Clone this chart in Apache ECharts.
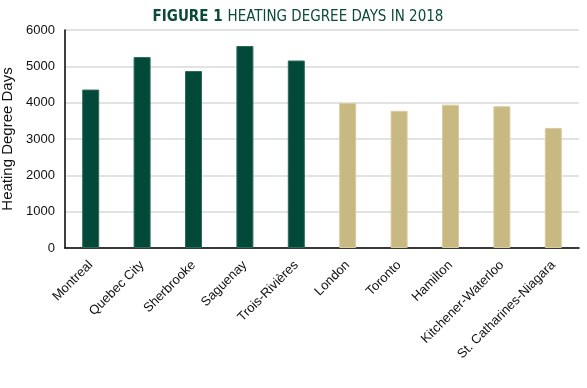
<!DOCTYPE html>
<html>
<head>
<meta charset="utf-8">
<script src="https://cdn.jsdelivr.net/npm/echarts@6/dist/echarts.min.js"></script>
<style>html,body{margin:0;padding:0;background:#fff}#c{width:587px;height:388px}</style>
</head>
<body>
<div id="c"></div>
<script>
var categories = ['Montreal','Quebec City','Sherbrooke','Saguenay','Trois-Rivières','London','Toronto','Hamilton','Kitchener-Waterloo','St. Catharines-Niagara'];
var values = [4360, 5255, 4870, 5560, 5160, 3990, 3775, 3945, 3900, 3305];
var province = ['QC','QC','QC','QC','QC','ON','ON','ON','ON','ON'];
var yTicks = [0,1000,2000,3000,4000,5000,6000];

var colors = {QC:'#02493a', ON:'#c8b983'};
var borders = {QC:'#2c6a58', ON:'#d8cc9e'};
var F = 'Liberation Sans, Arial, sans-serif';

var chart = echarts.init(document.getElementById('c'), null, {renderer:'canvas'});
chart.setOption({
  animation:false,
  title:{
    text:'{b|FIGURE 1} {n|HEATING DEGREE DAYS IN 2018}',
    left:293, top:3, textAlign:'center',
    textStyle:{
      rich:{
        b:{fontFamily:'DejaVu Sans Condensed, sans-serif',fontWeight:'bold',fontSize:15,color:'#0b4a3a'},
        n:{fontFamily:'DejaVu Sans Condensed, sans-serif',fontWeight:'normal',fontSize:15,color:'#0b4a3a'}
      }
    }
  },
  grid:{left:65,right:8,top:30,bottom:140,containLabel:false,outerBoundsMode:'none'},
  xAxis:{
    type:'category', data:categories,
    axisLine:{lineStyle:{color:'#000',width:1.5}},
    axisTick:{show:false},
    axisLabel:{rotate:45,interval:0,fontFamily:F,fontSize:13,color:'#111',margin:15}
  },
  yAxis:{
    type:'value', min:yTicks[0], max:yTicks[yTicks.length-1], interval:1000,
    name:'Heating Degree Days', nameLocation:'middle', nameGap:45,
    nameTextStyle:{fontFamily:F,fontSize:15,color:'#111'},
    axisLine:{show:true,lineStyle:{color:'#000',width:1.5}},
    axisTick:{show:false},
    axisLabel:{fontFamily:F,fontSize:13,color:'#111',margin:10,formatter:function(v){return String(v);}},
    splitLine:{lineStyle:{color:'#d9d9d9',width:1.5}}
  },
  series:[{
    type:'bar', barWidth:17,
    data: values.map(function(v,i){return {value:v,itemStyle:{color:colors[province[i]],borderColor:borders[province[i]],borderWidth:1}};})
  }]
});
</script>
</body>
</html>
